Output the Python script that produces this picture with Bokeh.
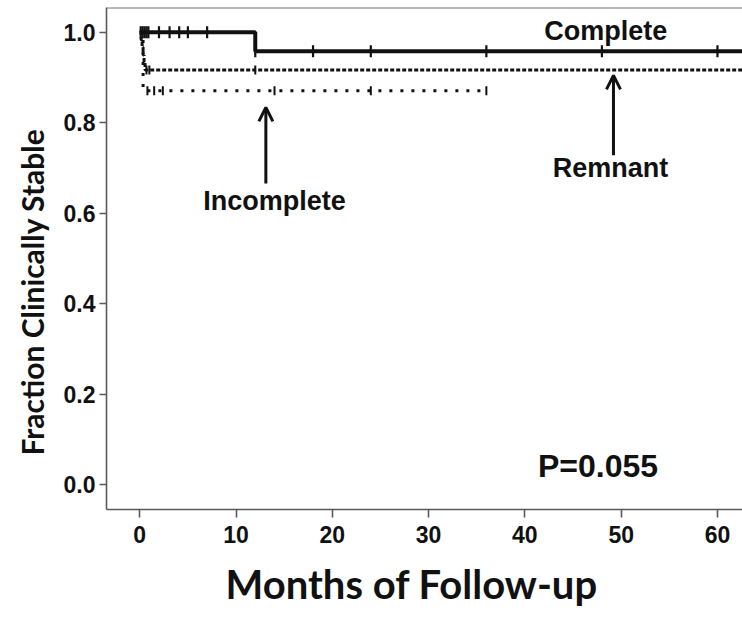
import numpy as np
from bokeh.plotting import figure
from bokeh.models import (Title, Span, Arrow, OpenHead, Label, FixedTicker, Range1d)
from bokeh.embed import file_html
from bokeh.resources import INLINE

# ---------------- data ----------------
# Kaplan-Meier curves: event times (months) and fraction stable after each time
complete_time = [0.0, 12.0, 64.0]
complete_surv = [1.0, 0.958, 0.958]
complete_cens_time = [0.1, 0.3, 0.5, 0.7, 0.9, 2.0, 3.1, 4.1, 5.0, 7.0,
                      12.0, 18.0, 24.0, 36.0, 48.0, 60.0]
complete_cens_surv = [1.0, 1.0, 1.0, 1.0, 1.0, 1.0, 1.0, 1.0, 1.0, 1.0,
                      0.958, 0.958, 0.958, 0.958, 0.958, 0.958]

remnant_time = [0.0, 0.15, 0.25, 0.35, 0.45, 0.55, 64.0]
remnant_surv = [1.0, 0.983, 0.967, 0.95, 0.933, 0.917, 0.917]
remnant_cens_time = [0.7, 1.0, 12.0]
remnant_cens_surv = [0.917, 0.917, 0.917]

incomplete_time = [0.0, 0.35, 36.0]
incomplete_surv = [1.0, 0.871, 0.871]
incomplete_cens_time = [0.8, 1.5, 2.4, 14.0, 24.0, 36.0]
incomplete_cens_surv = [0.871, 0.871, 0.871, 0.871, 0.871, 0.871]

x_ticks = [0, 10, 20, 30, 40, 50, 60]
x_tick_labels = ["0", "10", "20", "30", "40", "50", "60"]
y_ticks = [0.0, 0.2, 0.4, 0.6, 0.8, 1.0]
y_tick_labels = ["0.0", "0.2", "0.4", "0.6", "0.8", "1.0"]

# annotations: (text, x, y) in data units
label_text = ["Complete", "Remnant", "Incomplete", "P=0.055"]
label_x = [48.4, 48.9, 14.0, 47.6]
label_y = [1.002, 0.699, 0.626, 0.042]
arrow_x = [49.2, 13.1]
arrow_y_start = [0.728, 0.666]
arrow_y_end = [0.905, 0.834]

x_lo, x_hi = -3.45, 62.6
y_lo, y_hi = -0.0553, 1.055

# ---------------- figure ----------------
p = figure(width=742, height=622, output_backend="svg", toolbar_location=None,
           x_range=Range1d(x_lo, x_hi), y_range=Range1d(y_lo, y_hi),
           min_border_left=104, min_border_right=0, min_border_top=7,
           min_border_bottom=113)
p.outline_line_color = None
p.grid.visible = False
p.background_fill_color = "white"
p.border_fill_color = "white"

axis_col = "#5a5a5a"
for ax in (p.xaxis[0], p.yaxis[0]):
    ax.axis_line_color = axis_col
    ax.axis_line_width = 1.6
    ax.major_tick_line_color = axis_col
    ax.major_tick_line_width = 1.6
    ax.major_tick_in = 0
    ax.minor_tick_line_color = None
    ax.major_label_text_font = "Liberation Sans"
    ax.major_label_text_font_style = "bold"
    ax.major_label_text_font_size = "23px"
    ax.major_label_text_color = "#111111"

p.xaxis[0].ticker = FixedTicker(ticks=x_ticks)
p.xaxis[0].major_label_overrides = dict(zip(x_ticks, x_tick_labels))
p.xaxis[0].major_tick_out = 8
p.xaxis[0].major_label_standoff = 8
p.yaxis[0].ticker = FixedTicker(ticks=y_ticks)
p.yaxis[0].major_label_overrides = dict(zip(y_ticks, y_tick_labels))
p.yaxis[0].major_tick_out = 7
p.yaxis[0].major_label_standoff = 4

# top border of the frame
p.add_layout(Span(location=y_hi, dimension="width", line_color="#777777", line_width=2))

# axis titles
p.add_layout(Title(text="Months of Follow-up", align="left", offset=119,
                   text_font="Lato", text_font_style="bold", text_font_size="40px",
                   text_color="#111111", standoff=25), "below")
p.add_layout(Title(text="Fraction Clinically Stable", align="left", offset=54,
                   text_font="Lato", text_font_style="bold", text_font_size="30px",
                   text_color="#111111", standoff=22), "left")

ink = "#111111"
# curves
p.step(complete_time, complete_surv, mode="after", line_color=ink, line_width=4)
p.step(remnant_time, remnant_surv, mode="after", line_color=ink, line_width=3,
       line_dash="4 2")
p.step(incomplete_time, incomplete_surv, mode="after", line_color=ink, line_width=3,
       line_dash="3 8")

# censor marks
p.scatter(complete_cens_time, complete_cens_surv, marker="dash", angle=np.pi / 2,
          size=12, line_color=ink, line_width=2.2)
p.scatter(remnant_cens_time, remnant_cens_surv, marker="dash", angle=np.pi / 2,
          size=9, line_color=ink, line_width=2)
p.scatter(incomplete_cens_time, incomplete_cens_surv, marker="dash", angle=np.pi / 2,
          size=9, line_color=ink, line_width=2)

# arrows
for ax_, ys, ye in zip(arrow_x, arrow_y_start, arrow_y_end):
    p.add_layout(Arrow(x_start=ax_, y_start=ys, x_end=ax_, y_end=ye,
                       line_color=ink, line_width=3,
                       end=OpenHead(size=14, line_width=3, line_color=ink)))

# labels
sizes = ["27px", "27px", "27px", "32px"]
for t, lx, ly, fs in zip(label_text, label_x, label_y, sizes):
    p.add_layout(Label(x=lx, y=ly, text=t, text_align="center", text_baseline="middle",
                       text_font="Liberation Sans", text_font_style="bold",
                       text_font_size=fs, text_color=ink))

open("out.html", "w").write(file_html(p, INLINE))
